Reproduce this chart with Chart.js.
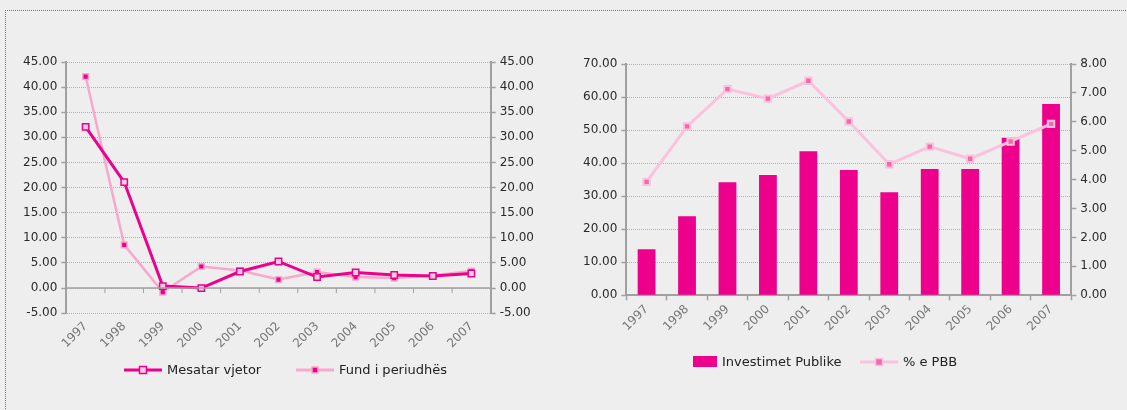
<!DOCTYPE html>
<html>
<head>
<meta charset="utf-8">
<script src="https://cdn.jsdelivr.net/npm/chart.js@4.4.1/dist/chart.umd.min.js"></script>
<style>
  html, body { margin: 0; padding: 0; background: #eeeeee; }
  body { width: 1127px; height: 410px; position: relative; overflow: hidden; font-family: "DejaVu Sans", sans-serif; }
  #frame { position: absolute; left: 5px; top: 10px; width: 1200px; height: 500px;
           border-top: 1px dotted #777; border-left: 1px dotted #777; }
  .box { position: absolute; top: 0; height: 410px; }
  #leftBox { left: 0; width: 560px; }
  #rightBox { left: 560px; width: 567px; }
  .leg { position: absolute; display: flex; align-items: center; font-size: 13px; color: #222; white-space: nowrap; }
  .leg canvas { margin-right: 5px; }
</style>
</head>
<body>
<div id="frame"></div>
<div class="box" id="leftBox"><canvas id="inflChart"></canvas></div>
<div class="box" id="rightBox"><canvas id="invChart"></canvas></div>
<div class="leg" id="leg1" style="left:124px; top:362px;"></div>
<div class="leg" id="leg2" style="left:296px; top:362px;"></div>
<div class="leg" id="leg3" style="left:693px; top:354px;"></div>
<div class="leg" id="leg4" style="left:860px; top:354px;"></div>
<script>
const years = ['1997', '1998', '1999', '2000', '2001', '2002', '2003', '2004', '2005', '2006', '2007'];
const mesatarVjetor = [32.1, 21.1, 0.4, 0.0, 3.3, 5.3, 2.2, 3.1, 2.6, 2.4, 2.9];
const fundPeriudhes = [42.1, 8.6, -0.8, 4.3, 3.5, 1.7, 3.2, 2.2, 2.0, 2.5, 3.4];
const investimetPublike = [13.9, 23.9, 34.2, 36.4, 43.6, 37.9, 31.2, 38.2, 38.2, 47.7, 57.9];
const perqindjePBB = [3.92, 5.84, 7.13, 6.80, 7.42, 6.01, 4.53, 5.14, 4.72, 5.32, 5.93];

const MAGENTA = '#ec008c';
const PINK = '#f8a8cc';
const PINK_LIGHT = '#fbc1dd';
const AXIS = '#a0a0a0';
const GRID = '#b0b0b0';
const FONT = 'DejaVu Sans';

// small legend icons
function lineIcon(lineColor, fill, stroke, size) {
  const c = document.createElement('canvas');
  c.width = 38; c.height = 12;
  const g = c.getContext('2d');
  g.strokeStyle = lineColor; g.lineWidth = 3;
  g.beginPath(); g.moveTo(0, 6); g.lineTo(38, 6); g.stroke();
  g.fillStyle = fill; g.strokeStyle = stroke; g.lineWidth = 1.5;
  g.fillRect(19 - size / 2, 6 - size / 2, size, size);
  g.strokeRect(19 - size / 2, 6 - size / 2, size, size);
  return c;
}
function boxIcon(color) {
  const c = document.createElement('canvas');
  c.width = 24; c.height = 11;
  const g = c.getContext('2d');
  g.fillStyle = color; g.fillRect(0, 0, 24, 11);
  return c;
}
function legend(id, icon, text) {
  const el = document.getElementById(id);
  el.appendChild(icon);
  el.appendChild(document.createTextNode(text));
}

function fmt(v) { return Number(v).toFixed(2); }

function yScale(pos, min, max, step, showGrid) {
  return {
    position: pos,
    min: min, max: max,
    ticks: { stepSize: step, callback: fmt, color: '#2a2a2a', font: { family: FONT, size: 12 }, padding: 4 },
    grid: { display: true, drawOnChartArea: showGrid, color: GRID, lineWidth: 1,
            tickColor: AXIS, tickLength: 5, tickWidth: 1.5 },
    border: { display: true, color: AXIS, width: 2, dash: [1, 1] }
  };
}

// zero line + category ticks for the left chart
const zeroAxis = {
  id: 'zeroAxis',
  afterDatasetsDraw(chart) {
    const { ctx, chartArea, scales } = chart;
    const y0 = scales.y.getPixelForValue(0);
    ctx.save();
    ctx.strokeStyle = AXIS; ctx.lineWidth = 1.5;
    ctx.beginPath(); ctx.moveTo(chartArea.left, y0); ctx.lineTo(chartArea.right, y0); ctx.stroke();
    ctx.lineWidth = 1;
    for (let i = 1; i < years.length; i++) {
      const xb = (scales.x.getPixelForValue(i - 1) + scales.x.getPixelForValue(i)) / 2;
      ctx.beginPath(); ctx.moveTo(xb, y0); ctx.lineTo(xb, y0 + 5); ctx.stroke();
    }
    ctx.restore();
  }
};

const xTicks = { color: '#777', font: { family: FONT, size: 12 }, maxRotation: 45, minRotation: 45, autoSkip: false };

new Chart(document.getElementById('inflChart'), {
  type: 'line',
  data: {
    labels: years,
    datasets: [{
      label: 'Mesatar vjetor',
      data: mesatarVjetor,
      borderColor: MAGENTA,
      borderWidth: 3,
      pointStyle: 'rect',
      pointRadius: 4.5,
      pointBackgroundColor: '#f9cde2',
      pointBorderColor: MAGENTA,
      pointBorderWidth: 1.5,
      tension: 0
    }, {
      label: 'Fund i periudhës',
      data: fundPeriudhes,
      borderColor: PINK,
      borderWidth: 2.5,
      pointStyle: 'rect',
      pointRadius: 4,
      pointBackgroundColor: MAGENTA,
      pointBorderColor: PINK,
      pointBorderWidth: 1.5,
      tension: 0
    }]
  },
  options: {
    responsive: true,
    maintainAspectRatio: false,
    animation: false,
    layout: { padding: { left: 19, right: 22, top: 62, bottom: 53 } },
    plugins: { tooltip: { enabled: false }, legend: { display: false } },
    scales: {
      x: {
        offset: true,
        ticks: Object.assign({ padding: 6 }, xTicks),
        grid: { display: false, drawTicks: false },
        border: { display: false }
      },
      y: yScale('left', -5, 45, 5, true),
      y2: yScale('right', -5, 45, 5, false)
    }
  },
  plugins: [zeroAxis]
});

new Chart(document.getElementById('invChart'), {
  type: 'bar',
  data: {
    labels: years,
    datasets: [{
      type: 'line',
      label: '% e PBB',
      data: perqindjePBB,
      borderColor: PINK_LIGHT,
      borderWidth: 3,
      pointStyle: 'rect',
      pointRadius: 4.5,
      pointBackgroundColor: '#f06aa8',
      pointBorderColor: PINK_LIGHT,
      pointBorderWidth: 2,
      tension: 0,
      yAxisID: 'y2',
      order: 0
    }, {
      type: 'bar',
      label: 'Investimet Publike',
      data: investimetPublike,
      backgroundColor: MAGENTA,
      barPercentage: 0.44,
      categoryPercentage: 1,
      yAxisID: 'y',
      order: 1
    }]
  },
  options: {
    responsive: true,
    maintainAspectRatio: false,
    animation: false,
    layout: { padding: { left: 19, right: 16, top: 64, bottom: 74 } },
    plugins: { tooltip: { enabled: false }, legend: { display: false } },
    scales: {
      x: {
        offset: true,
        ticks: Object.assign({ padding: 2 }, xTicks),
        grid: { display: true, offset: true, drawOnChartArea: false, tickColor: AXIS, tickLength: 5, tickWidth: 1.5 },
        border: { display: true, color: AXIS, width: 2 }
      },
      y: yScale('left', 0, 70, 10, true),
      y2: yScale('right', 0, 8, 1, false)
    }
  }
});

legend('leg1', lineIcon(MAGENTA, '#f9cde2', MAGENTA, 7), 'Mesatar vjetor');
legend('leg2', lineIcon(PINK, MAGENTA, PINK, 6), 'Fund i periudhës');
legend('leg3', boxIcon(MAGENTA), 'Investimet Publike');
legend('leg4', lineIcon(PINK_LIGHT, '#f06aa8', PINK_LIGHT, 7), '% e PBB');
</script>
</body>
</html>
